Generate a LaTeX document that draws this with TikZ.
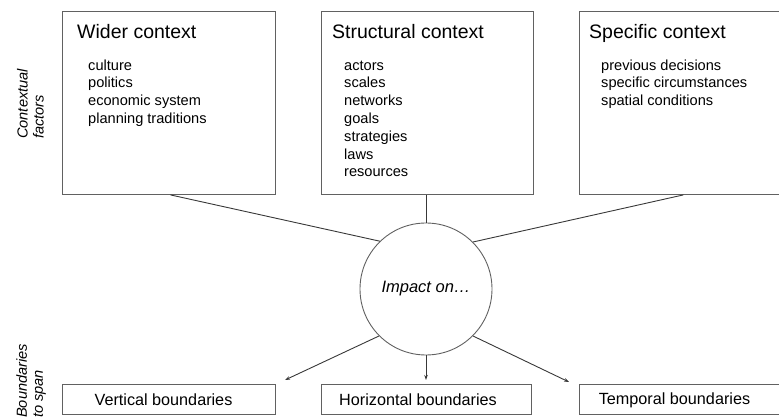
\documentclass[tikz,border=0pt]{standalone}
\usepackage{fontspec}
\setmainfont{Liberation Sans}
\usetikzlibrary{calc,arrows.meta}
\begin{document}
\begin{tikzpicture}[x=1pt,y=-1pt,
  box/.style={draw=black!62,line width=0.9pt,rectangle,inner sep=0pt,anchor=north west},
  ttl/.style={anchor=base west,inner sep=0pt,font=\fontsize{19.5}{23}\selectfont},
  lst/.style={anchor=north west,inner sep=0pt,align=left,font=\fontsize{14.6}{17.8}\selectfont},
  side/.style={anchor=south west,inner sep=0pt,align=left,rotate=90,font=\fontsize{14.6}{16}\selectfont\itshape},
  btxt/.style={inner sep=0pt,font=\fontsize{16.2}{19}\selectfont},
  con/.style={draw=black!78,line width=0.9pt},
  arr/.style={con,-{Stealth[length=5pt,width=3.5pt]}}]
\useasboundingbox (0,0) rectangle (779,419);
\clip (0,0) rectangle (779,419);
% top boxes
\node[box,minimum width=213pt,minimum height=183pt] (wider) at (62,11) {};
\node[box,minimum width=212pt,minimum height=183pt] (struct) at (321,11) {};
\node[box,minimum width=213pt,minimum height=183pt] (spec) at (579,11) {};
\node[ttl] (wt) at (77,39) {Wider context};
\node[ttl] (st) at (332,39) {Structural context};
\node[ttl] (pt) at (589,39) {Specific context};
\node[lst] (wl) at (88,57.5) {\strut culture\\politics\\economic system\\planning traditions};
\node[lst] (sl) at (344,57.5) {\strut actors\\scales\\networks\\goals\\strategies\\laws\\resources};
\node[lst] (pl) at (601,57.5) {\strut previous decisions\\specific circumstances\\spatial conditions};
% side labels
\node[side] (cf) at (44,139) {Contextual\\factors};
\node[side] (bs) at (46,418) {Boundaries\\to span};
% circle
\node[circle,draw=black!62,line width=0.9pt,minimum size=132pt,inner sep=0pt,
  font=\fontsize{16.5}{19}\selectfont\itshape] (imp) at (426,289) {Impact on…};
% bottom boxes
\node[box,minimum width=213pt,minimum height=30pt] (vert) at (62,384) {};
\node[box,minimum width=210pt,minimum height=30pt] (horiz) at (321,384) {};
\node[box,minimum width=213pt,minimum height=30pt] (temp) at (579,384) {};
\node[btxt] (vt) at (163.5,400) {Vertical boundaries};
\node[btxt] (ht) at (418,400) {Horizontal boundaries};
\node[btxt] (tt) at (674.5,400) {Temporal boundaries};
% connectors
\draw[con] ($(wider.south west)!0.507!(wider.south east)$) -- (imp.134);
\draw[con] (struct.south -| imp.north) -- (imp.north);
\draw[con] ($(spec.south west)!0.488!(spec.south east)$) -- (imp.45);
\coordinate (a1) at (285,380);
\coordinate (a2) at (426,380);
\coordinate (a3) at (569,382);
\draw[arr] (imp.-135) -- (a1);
\draw[arr] (imp.south) -- (a2);
\draw[arr] (imp.-45) -- (a3);
\end{tikzpicture}
\end{document}
